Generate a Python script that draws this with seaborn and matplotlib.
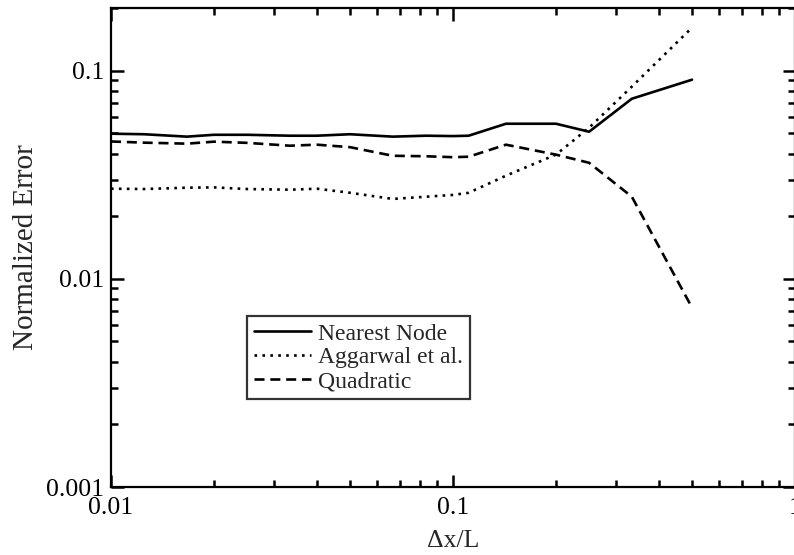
import matplotlib
matplotlib.use("Agg")
import matplotlib.pyplot as plt
import matplotlib.ticker as mticker
import seaborn as sns
import pandas as pd
import numpy as np

# Data
dx = [1/100, 1/80, 1/60, 1/50, 1/40, 1/30, 1/25, 1/20, 1/15, 1/12, 1/10, 1/9, 1/7, 1/5, 1/4, 1/3, 1/2]
nearest = [0.0498, 0.0495, 0.0482, 0.0492, 0.0492, 0.0487, 0.0487, 0.0495, 0.0482, 0.0487, 0.0485, 0.0487,
           0.0556, 0.0556, 0.0509, 0.0733, 0.0905]
aggarwal = [0.0271, 0.0270, 0.0274, 0.0275, 0.0270, 0.0268, 0.0271, 0.0259, 0.0242, 0.0248, 0.0253, 0.0259,
            0.0313, 0.0395, 0.0532, 0.0838, 0.161]
quadratic = [0.0457, 0.0451, 0.0446, 0.0456, 0.0450, 0.0436, 0.0441, 0.0429, 0.0390, 0.0388, 0.0384, 0.0386,
             0.0441, 0.0395, 0.0361, 0.0248, 0.00727]
labels = ["Nearest Node", "Aggarwal et al.", "Quadratic"]
xticks = [0.01, 0.1, 1]
xticklabels = ["0.01", "0.1", "1"]
yticks = [0.001, 0.01, 0.1]
yticklabels = ["0.001", "0.01", "0.1"]

sns.set_style("ticks")
plt.rcParams['font.family'] = ['Liberation Serif', 'DejaVu Serif']

fig = plt.figure(figsize=(7.94, 5.55), dpi=100)
ax = fig.add_axes([111/794, 1 - 487/555, 684/794, 479/555])

df = pd.DataFrame({
    "dx": dx * 3,
    "err": nearest + aggarwal + quadratic,
    "method": [labels[0]] * len(dx) + [labels[1]] * len(dx) + [labels[2]] * len(dx),
})

styles = {labels[0]: "-", labels[1]: (0, (1, 2.0)), labels[2]: (0, (3.8, 2.2))}
for lab in labels:
    sub = df[df["method"] == lab]
    sns.lineplot(data=sub, x="dx", y="err", ax=ax, color="black", linewidth=1.9,
                 linestyle=styles[lab], label=lab, estimator=None, sort=False)

ax.set_xscale("log")
ax.set_yscale("log")
ax.set_xlim(0.01, 1)
ax.set_ylim(0.001, 0.2)

ax.xaxis.set_major_locator(mticker.FixedLocator(xticks))
ax.xaxis.set_major_formatter(mticker.FixedFormatter(xticklabels))
ax.yaxis.set_major_locator(mticker.FixedLocator(yticks))
ax.yaxis.set_major_formatter(mticker.FixedFormatter(yticklabels))
ax.xaxis.set_minor_locator(mticker.LogLocator(base=10, subs=np.arange(2, 10)))
ax.yaxis.set_minor_locator(mticker.LogLocator(base=10, subs=np.arange(2, 10)))
ax.xaxis.set_minor_formatter(mticker.NullFormatter())
ax.yaxis.set_minor_formatter(mticker.NullFormatter())

ax.tick_params(which="both", direction="in", top=True, right=True, colors="black")
ax.tick_params(which="major", length=9, width=1.8, labelsize=18.5)
ax.tick_params(axis="x", which="major", pad=7)
ax.tick_params(axis="y", which="major", pad=5)
ax.tick_params(which="minor", length=5, width=1.8)
for s in ax.spines.values():
    s.set_linewidth(1.6)
    s.set_color("black")

ax.set_xlabel("Δx/L", fontsize=18.5, labelpad=8)
ax.set_ylabel("Normalized Error", fontsize=21, labelpad=5)

leg = ax.legend(loc="upper left", bbox_to_anchor=(0.199, 0.357), frameon=True, fancybox=False,
                edgecolor="black", fontsize=17, handlelength=2.4, handletextpad=0.3,
                borderpad=0.3, labelspacing=0.1, borderaxespad=0)
leg.get_frame().set_linewidth(1.6)

fig.savefig("out.png", dpi=100)
